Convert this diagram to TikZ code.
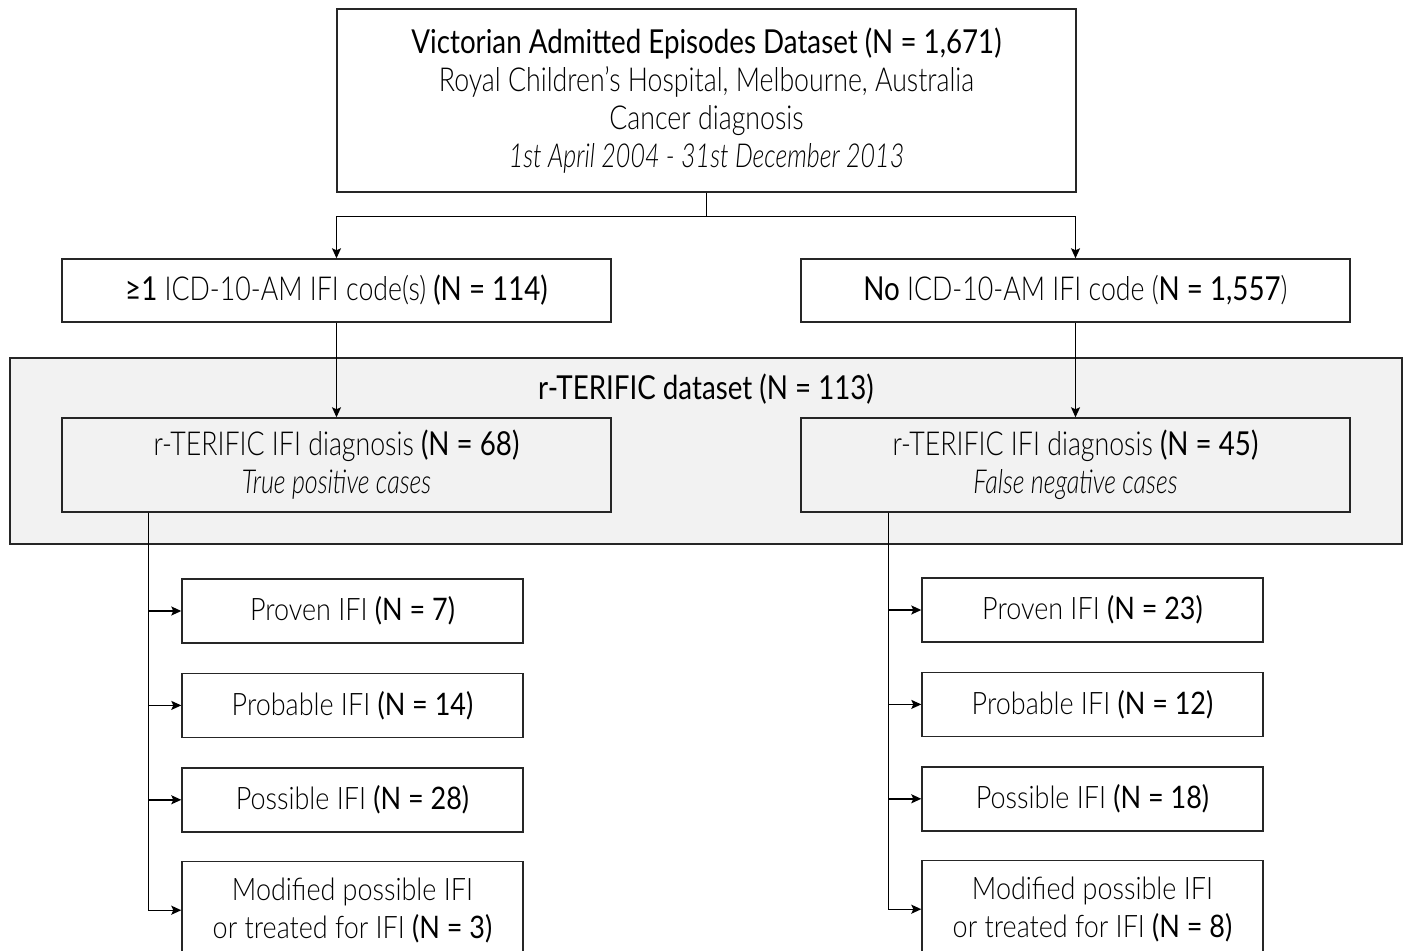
\documentclass[tikz,border=0pt]{standalone}
\usepackage{fontspec}
\setmainfont{Lato Light}[BoldFont={Lato},ItalicFont={Lato Light Italic},FakeStretch=0.81,BoldFeatures={FakeStretch=0.84},ItalicFeatures={FakeStretch=0.76}]
\newfontfamily\widefont{Lato Light}[BoldFont={Lato},FakeStretch=0.87]
\usetikzlibrary{arrows.meta,positioning}

\begin{document}
\begin{tikzpicture}[x=0.5pt,y=-0.5pt,>={Stealth[length=5pt,width=4.5pt,inset=1pt]},line width=0.7pt,
  every node/.style={font=\fontsize{16.5}{19}\selectfont,align=center},
  box/.style={draw=black!85,line width=0.7pt,inner sep=0pt,minimum width=274.5pt,minimum height=31.5pt},
  subbox/.style={draw=black!85,line width=0.7pt,inner sep=0pt,minimum width=170.5pt,minimum height=32pt,font=\widefont\fontsize{15.5}{19}\selectfont}]
\useasboundingbox (0,0) rectangle (1406,951);
% grey container
\node[draw=black!85,fill=black!5,line width=0.7pt,inner sep=0pt,minimum width=696pt,minimum height=93pt] (dataset) at (706,451) {};
\node (dstitle) at (706,389) {\textbf{r-TERIFIC dataset (N = 113)}};
% top
\node[box,minimum width=369.5pt,minimum height=91.5pt] (vaed) at (706.5,100.5) {\textbf{Victorian Admitted Episodes Dataset (N = 1,671)}\\ Royal Children’s Hospital, Melbourne, Australia\\ Cancer diagnosis\\ \textit{1st April 2004 - 31st December 2013}};
\node[box] (code) at (336.5,290.5) {\textbf{≥1} ICD-10-AM IFI code(s) \textbf{(N = 114)}};
\node[box] (nocode) at (1075.5,290.5) {\textbf{No} ICD-10-AM IFI code (\textbf{N = 1,557})};
\node[box,minimum height=47pt] (tp) at (336.5,465) {r-TERIFIC IFI diagnosis \textbf{(N = 68)}\\ \textit{True positive cases}};
\node[box,minimum height=47pt] (fn) at (1075.5,465) {r-TERIFIC IFI diagnosis \textbf{(N = 45)}\\ \textit{False negative cases}};
% categories
\node[subbox] (tp1) at (352.5,611) {Proven IFI \textbf{(N = 7)}};
\node[subbox,below=14.5pt of tp1] (tp2) {Probable IFI \textbf{(N = 14)}};
\node[subbox,below=14.5pt of tp2] (tp3) {Possible IFI \textbf{(N = 28)}};
\node[subbox,below=14pt of tp3,minimum height=49pt] (tp4) {Modified possible IFI\\ or treated for IFI \textbf{(N = 3)}};
\node[subbox] (fn1) at (1092.5,610) {Proven IFI \textbf{(N = 23)}};
\node[subbox,below=14.5pt of fn1] (fn2) {Probable IFI \textbf{(N = 12)}};
\node[subbox,below=14.5pt of fn2] (fn3) {Possible IFI \textbf{(N = 18)}};
\node[subbox,below=14pt of fn3,minimum height=49pt] (fn4) {Modified possible IFI\\ or treated for IFI \textbf{(N = 8)}};
% connectors
\draw (vaed.south) -- ++(0,24) coordinate (split);
\draw[->] (split) -| (code.north);
\draw[->] (split) -| (nocode.north);
\draw[->] (code) -- (tp);
\draw[->] (nocode) -- (fn);
\foreach \i in {1,...,4} {
  \draw[->] ([xshift=43.5pt]tp.south west) |- (tp\i.west);
  \draw[->] ([xshift=44pt]fn.south west) |- (fn\i.west);
}
\end{tikzpicture}
\end{document}
